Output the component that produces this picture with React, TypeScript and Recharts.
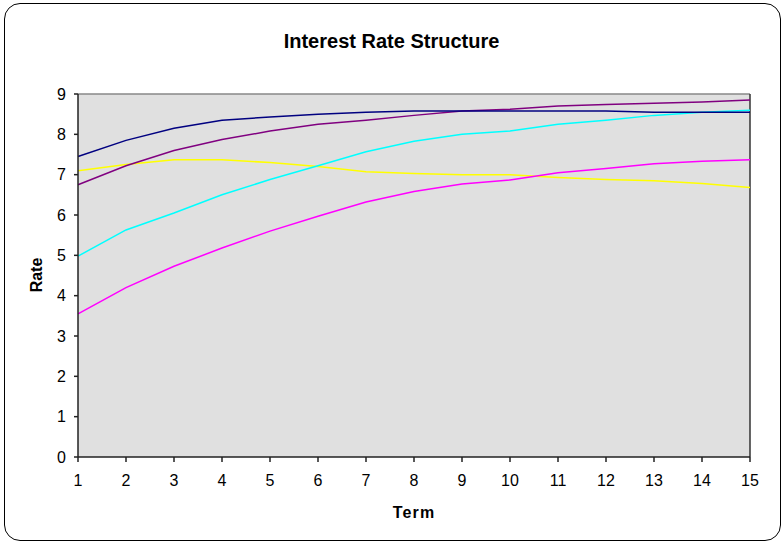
import React from 'react';
import { LineChart, Line, XAxis, YAxis, ReferenceArea, ReferenceLine } from 'recharts';

const terms = [1, 2, 3, 4, 5, 6, 7, 8, 9, 10, 11, 12, 13, 14, 15];
const rateTicks = [0, 1, 2, 3, 4, 5, 6, 7, 8, 9];

const navySeries = [7.45, 7.85, 8.15, 8.35, 8.43, 8.5, 8.55, 8.58, 8.58, 8.58, 8.58, 8.58, 8.55, 8.55, 8.55];
const purpleSeries = [6.75, 7.22, 7.6, 7.87, 8.08, 8.25, 8.35, 8.47, 8.58, 8.62, 8.7, 8.74, 8.77, 8.8, 8.85];
const yellowSeries = [7.1, 7.25, 7.37, 7.37, 7.3, 7.2, 7.07, 7.03, 7.0, 7.0, 6.93, 6.88, 6.85, 6.78, 6.68];
const cyanSeries = [4.98, 5.63, 6.05, 6.5, 6.88, 7.22, 7.57, 7.83, 8.0, 8.08, 8.25, 8.35, 8.47, 8.55, 8.6];
const magentaSeries = [3.55, 4.2, 4.73, 5.18, 5.6, 5.97, 6.32, 6.58, 6.77, 6.87, 7.05, 7.15, 7.27, 7.33, 7.37];

const data = terms.map((term, i) => ({
    term,
    navy: navySeries[i],
    purple: purpleSeries[i],
    yellow: yellowSeries[i],
    cyan: cyanSeries[i],
    magenta: magentaSeries[i],
}));

const lines = [
    { key: 'yellow', color: '#ffff00' },
    { key: 'magenta', color: '#ff00ff' },
    { key: 'cyan', color: '#00ffff' },
    { key: 'purple', color: '#800080' },
    { key: 'navy', color: '#000080' },
];

const font = 'Arial, "Liberation Sans", sans-serif';

const RateLabel = () => (
    <text
        x={36}
        y={275}
        transform="rotate(-90 36 275)"
        textAnchor="middle"
        dominantBaseline="central"
        fontFamily={font}
        fontSize={16}
        fontWeight="bold"
        fill="#000"
    >
        Rate
    </text>
);

const TermLabel = () => (
    <text
        x={414}
        y={518}
        textAnchor="middle"
        fontFamily={font}
        fontSize={16}
        fontWeight="bold"
        letterSpacing={1.2}
        fill="#000"
    >
        Term
    </text>
);

export default function App() {
    return (
        <div style={{ position: 'absolute', left: 0, top: 0, width: 783, height: 544, background: '#fff', fontFamily: font }}>
            <div
                style={{
                    position: 'absolute',
                    left: 4,
                    top: 3,
                    width: 775,
                    height: 536,
                    border: '1px solid #000',
                    borderRadius: 16,
                }}
            />
            <div
                style={{
                    position: 'absolute',
                    left: 0,
                    width: 783,
                    top: 29,
                    textAlign: 'center',
                    fontSize: 20,
                    fontWeight: 'bold',
                    lineHeight: '24px',
                    color: '#000',
                }}
            >
                Interest Rate Structure
            </div>
            <div style={{ position: 'absolute', left: 0, top: 0 }}>
                <LineChart width={783} height={544} data={data} margin={{ top: 94, right: 33, left: 0, bottom: 0 }}>
                    <ReferenceArea x1={1} x2={15} y1={0} y2={9} fill="#e0e0e0" fillOpacity={1} stroke="none" />
                    <ReferenceLine y={9} stroke="#888" strokeWidth={1.5} />
                    <ReferenceLine x={15} stroke="#333" strokeWidth={1.5} />
                    <XAxis
                        dataKey="term"
                        type="number"
                        domain={[1, 15]}
                        ticks={terms}
                        height={87}
                        tickSize={5}
                        tickMargin={13}
                        stroke="#222"
                        strokeWidth={1.5}
                        tick={{ fill: '#000', fontSize: 16, fontFamily: font }}
                        label={<TermLabel />}
                    />
                    <YAxis
                        type="number"
                        domain={[0, 9]}
                        ticks={rateTicks}
                        width={78}
                        tickSize={4}
                        tickMargin={8}
                        stroke="#222"
                        strokeWidth={1.5}
                        tick={{ fill: '#000', fontSize: 16, fontFamily: font }}
                        label={<RateLabel />}
                    />
                    {lines.map((l) => (
                        <Line
                            key={l.key}
                            type="linear"
                            dataKey={l.key}
                            stroke={l.color}
                            strokeWidth={1.5}
                            dot={false}
                            isAnimationActive={false}
                        />
                    ))}
                </LineChart>
            </div>
        </div>
    );
}
